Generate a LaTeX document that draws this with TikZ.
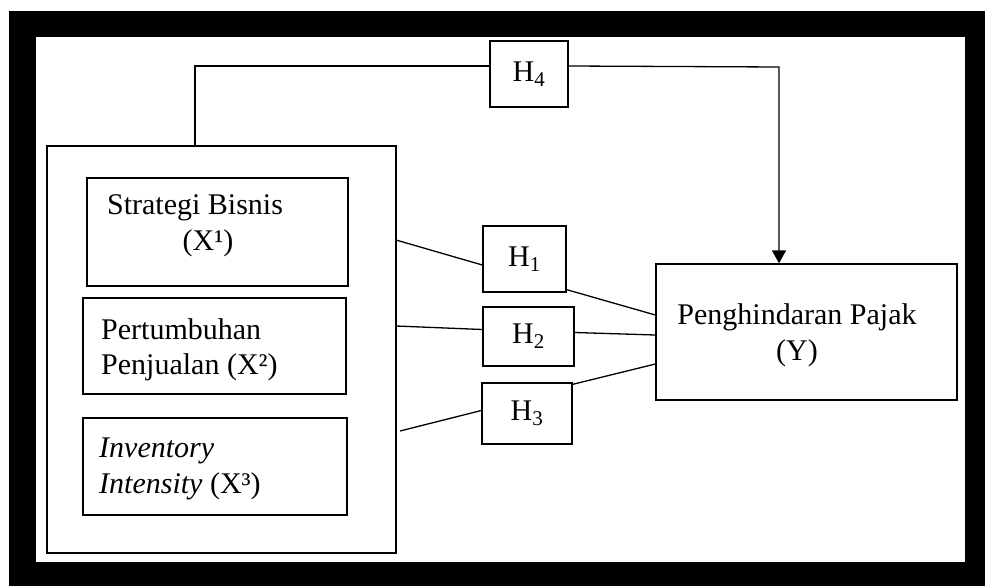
\documentclass[tikz,border=0pt]{standalone}
\usepackage{fontspec}
\setmainfont{Liberation Serif}
\usetikzlibrary{arrows.meta}
\tikzset{
	box/.style={draw, line width=1.3pt, inner sep=0pt},
	lbl/.style={inner sep=0pt, align=left},
	link/.style={line width=1.3pt}
}
\begin{document}
\begin{tikzpicture}[x=1pt, y=-1pt, font=\fontsize{30}{35.5}\selectfont]
	\useasboundingbox (0,0) rectangle (985,586);
	% Rahmen
	\fill[black] (9,11) rectangle (985,586);
	\fill[white] (36,37) rectangle (965,562);
	% Variablen X
	\node[box, minimum width=349pt, minimum height=407pt] (grp) at (221.5,349.5) {};
	\node[box, minimum width=261pt, minimum height=108pt] (x1) at (217.5,232) {};
	\node[box, minimum width=263pt, minimum height=96pt] (x2) at (214.5,346) {};
	\node[box, minimum width=264pt, minimum height=97pt] (x3) at (215,466.5) {};
	\node[lbl, align=center] (t1) at (195,226) {Strategi Bisnis\\\hspace*{26pt}(X¹)};
	\node[lbl, anchor=west] (t2) at (101,350) {Pertumbuhan\\Penjualan (X²)};
	\node[lbl, anchor=west] (t3) at (99,469) {\textit{Inventory}\\\textit{Intensity} (X³)};
	% Hypothesen
	\node[box, minimum width=83pt, minimum height=66pt] (h1) at (524.5,259) {H\textsubscript{1}};
	\node[box, minimum width=91pt, minimum height=59pt] (h2) at (528.5,336.5) {H\textsubscript{2}};
	\node[box, minimum width=90pt, minimum height=61pt] (h3) at (527,413.5) {H\textsubscript{3}};
	\node[box, minimum width=78pt, minimum height=66pt] (h4) at (529,74) {H\textsubscript{4}};
	% Variable Y
	\node[box, minimum width=301pt, minimum height=136pt] (y) at (806.5,332) {};
	\node[lbl, align=center] (ty) at (797,335.5) {Penghindaran Pajak\\(Y)};
	% Verbindungen
	\coordinate (a1) at (396,240);
	\coordinate (a2) at (396,326);
	\coordinate (a3) at (400,431);
	\coordinate (c4) at (195,66);
	\coordinate (c5) at (779,67);
	\draw[link] (a1) -- ([yshift=-6pt]h1.west);
	\draw[link] ([yshift=3pt]h1.south east) -- ([yshift=17pt]y.west);
	\draw[link] (a2) -- ([yshift=7pt]h2.west);
	\draw[link] ([yshift=4pt]h2.east) -- ([yshift=-3pt]y.west);
	\draw[link] (a3) -- ([yshift=3pt]h3.west);
	\draw[link] ([yshift=-2pt]h3.north east) -- ([yshift=-32pt]y.west);
	\draw[link] (grp.north -| c4) -- (c4) -- (c4 -| h4.west);
	\draw[link, -{Triangle[length=13pt, width=14pt]}] (c4 -| h4.east) -- (c5) -- (c5 |- y.north);
\end{tikzpicture}
\end{document}
